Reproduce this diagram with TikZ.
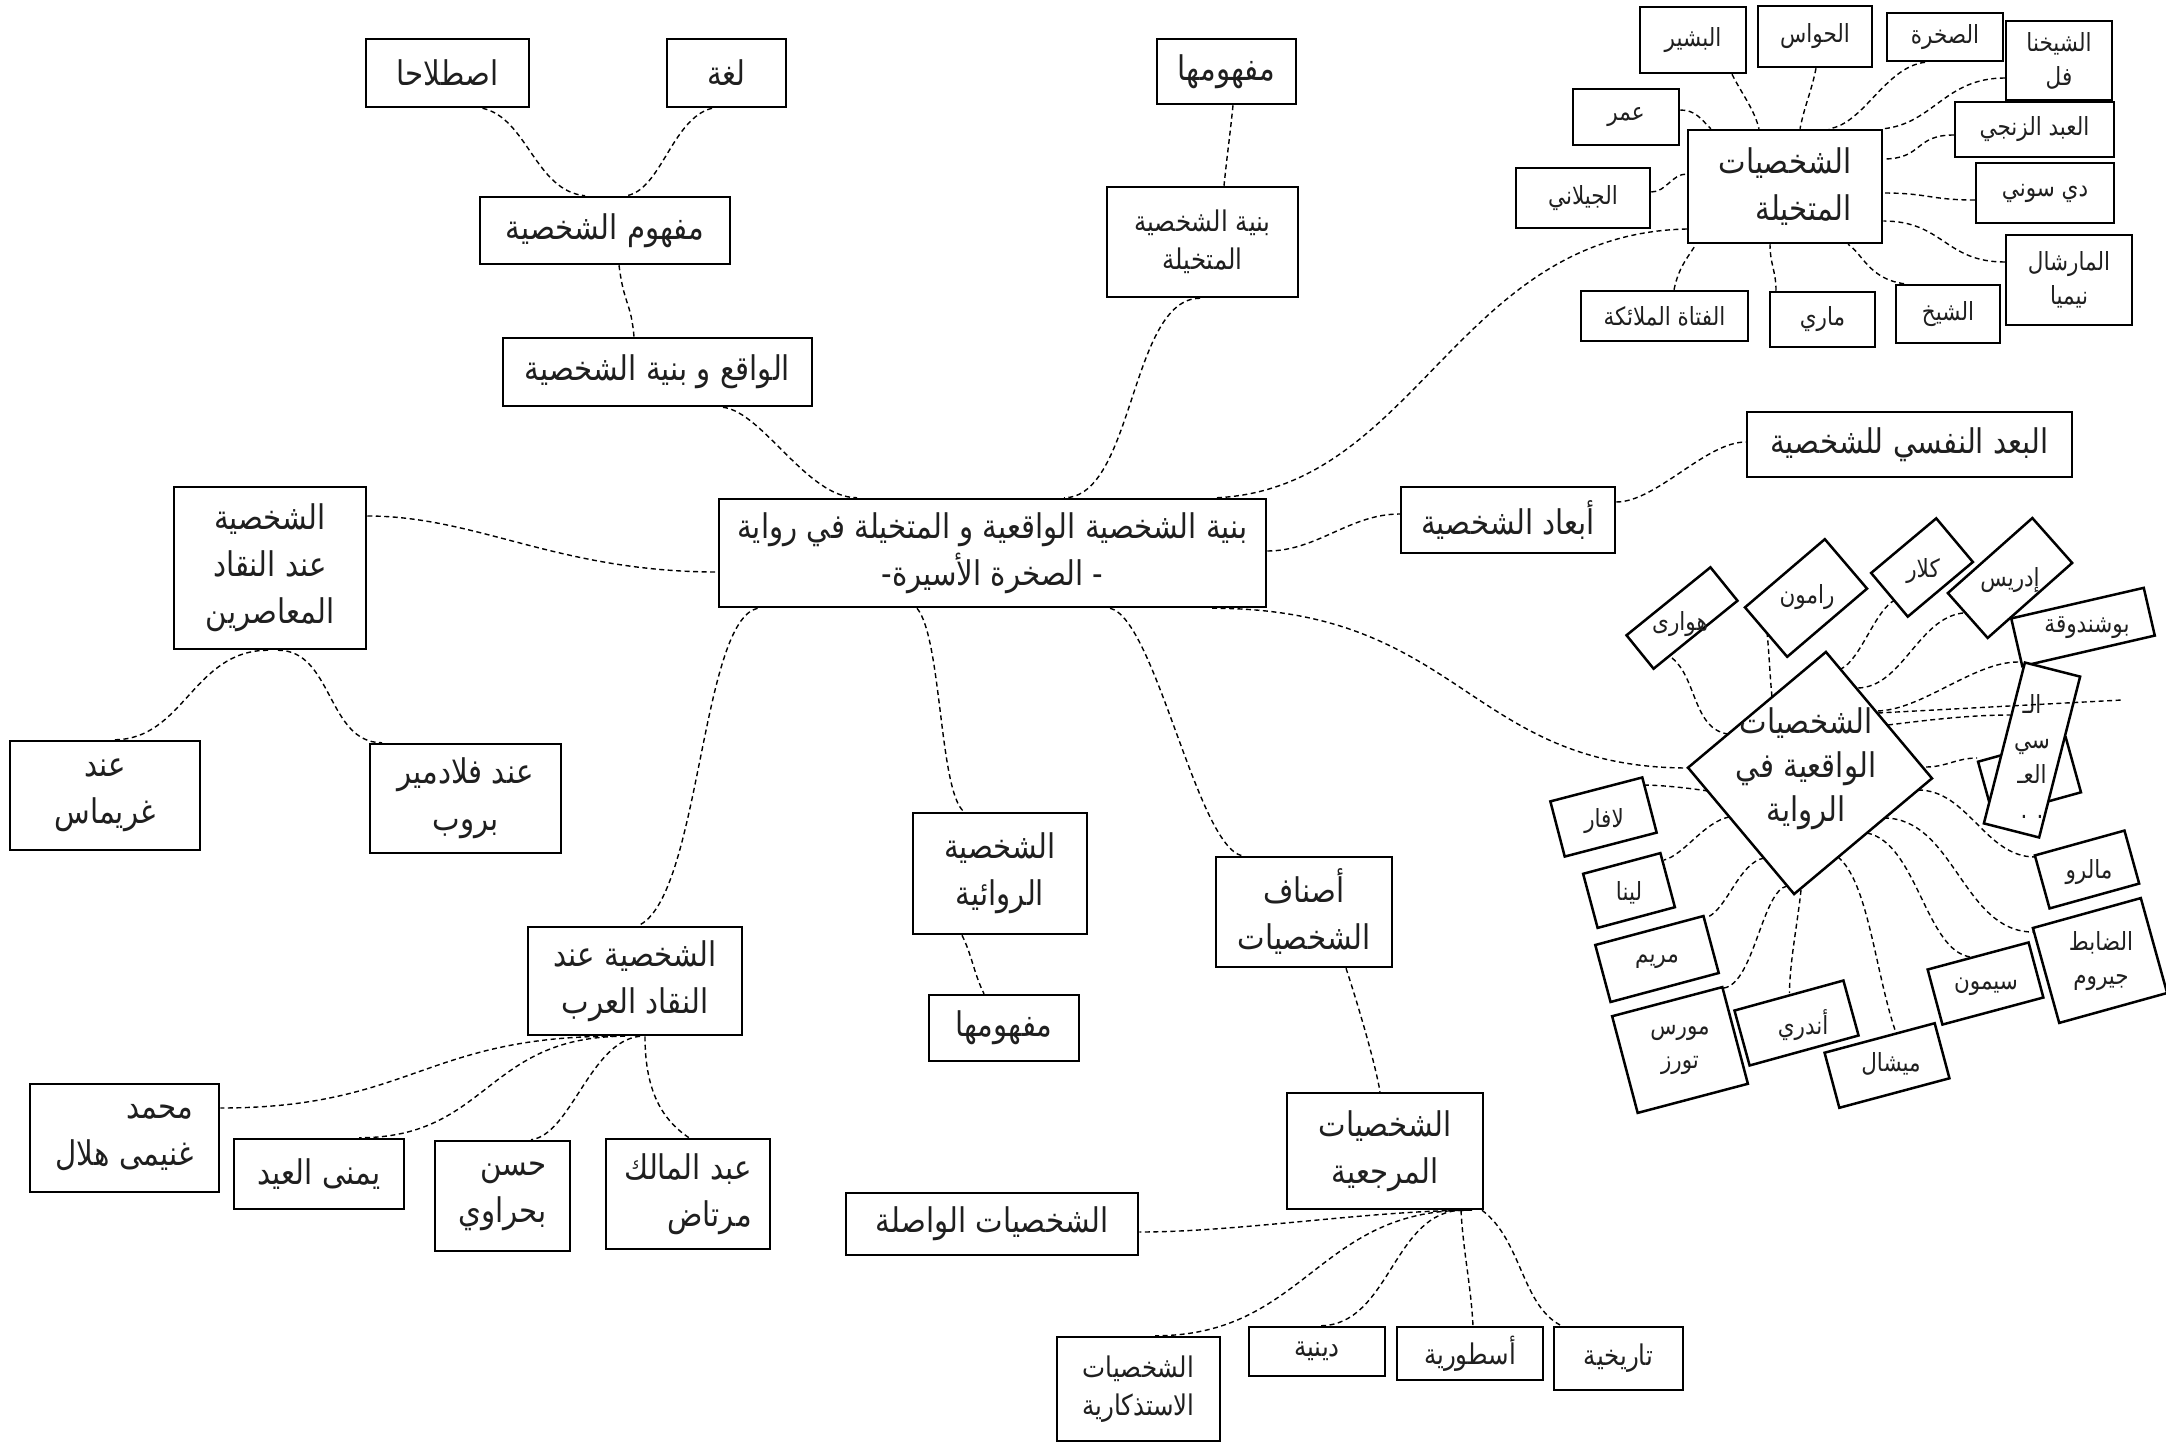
\documentclass[tikz,border=0pt]{standalone}
\usepackage{fontspec}
\newfontfamily\arabicfont[Script=Arabic,FakeStretch=0.86]{DejaVu Sans}
\TeXXeTstate=1
\usetikzlibrary{calc,backgrounds}
\newcommand{\AR}[1]{\beginR #1\endR}
\newcommand{\fBig}{\arabicfont\fontsize{34}{47}\selectfont}
\newcommand{\fMid}{\arabicfont\fontsize{28.5}{38}\selectfont}
\newcommand{\fSmall}{\arabicfont\fontsize{25}{34}\selectfont}
\begin{document}
\begin{tikzpicture}[x=1pt,y=-1pt,
  box/.style={draw,line width=2.5pt,fill=white,inner sep=0pt,align=center,font=\fBig,text=black!88},
  mbox/.style={box,font=\fMid},
  sbox/.style={box,font=\fSmall},
  rbox/.style={draw,line width=2.5pt,fill=white,inner sep=0pt},
  stxt/.style={inner sep=0pt,align=center,font=\fSmall,text=black!88},
  btxt/.style={inner sep=0pt,align=center,font=\arabicfont\fontsize{34}{44}\selectfont,text=black!88},
  con/.style={line width=1.4pt,dash pattern=on 5pt off 3.5pt}]
\useasboundingbox (0,0) rectangle (2166,1442);

% ---------- left / centre boxes ----------
\node[box,minimum width=163pt,minimum height=68pt] (istilah) at (447.5,73) {\AR{اصطلاحا}};
\node[box,minimum width=119pt,minimum height=68pt] (lugha) at (726.5,73) {\AR{لغة}};
\node[box,minimum width=250pt,minimum height=67pt] (mafhum) at (605,230.5) {\AR{مفهوم الشخصية}};
\node[box,minimum width=309pt,minimum height=68pt] (waqi) at (657.5,372) {\AR{الواقع و بنية الشخصية}};
\node[box,minimum width=139pt,minimum height=65pt] (maftop) at (1226.5,71.5) {\AR{مفهومها}};
\node[mbox,minimum width=191pt,minimum height=110pt] (binya) at (1202.5,242) {\AR{بنية الشخصية}\\\AR{المتخيلة}};
\node[box,minimum width=547pt,minimum height=108pt] (main) at (992.5,553) {\AR{بنية الشخصية الواقعية و المتخيلة في رواية}\\\AR{- الصخرة الأسيرة-}};
\node[box,minimum width=192pt,minimum height=162pt] (muasirin) at (270,568) {\AR{الشخصية}\\\AR{عند النقاد}\\\AR{المعاصرين}};
\node[box,minimum width=190pt,minimum height=109pt] (greimas) at (105,795.5) {\AR{عند}\\\AR{غريماس}};
\node[box,minimum width=191pt,minimum height=109pt] (propp) at (465.5,798.5) {\AR{عند فلادمير}\\\AR{بروب}};
\node[box,minimum width=214pt,minimum height=108pt] (arab) at (635,981) {\AR{الشخصية عند}\\\AR{النقاد العرب}};
\node[box,align=right,minimum width=189pt,minimum height=108pt] (hilal) at (124.5,1138) {\AR{محمد}\\\AR{غنيمى هلال}};
\node[box,minimum width=170pt,minimum height=70pt] (yumna) at (319,1174) {\AR{يمنى العيد}};
\node[box,align=right,minimum width=135pt,minimum height=110pt] (bahrawi) at (502.5,1196) {\AR{حسن}\\\AR{بحراوي}};
\node[box,align=right,minimum width=164pt,minimum height=110pt] (murtad) at (688,1194) {\AR{عبد المالك}\\\AR{مرتاض}};
\node[box,minimum width=174pt,minimum height=121pt] (riwaiya) at (1000,873.5) {\AR{الشخصية}\\\AR{الروائية}};
\node[box,minimum width=150pt,minimum height=66pt] (mafmid) at (1004,1028) {\AR{مفهومها}};
\node[box,minimum width=176pt,minimum height=110pt] (asnaf) at (1304,912) {\AR{أصناف}\\\AR{الشخصيات}};
\node[box,minimum width=196pt,minimum height=116pt] (marjia) at (1385,1151) {\AR{الشخصيات}\\\AR{المرجعية}};
\node[box,minimum width=292pt,minimum height=62pt] (wasila) at (992,1224) {\AR{الشخصيات الواصلة}};
\node[mbox,minimum width=163pt,minimum height=104pt] (istidhkar) at (1138.5,1389) {\AR{الشخصيات}\\\AR{الاستذكارية}};
\node[mbox,minimum width=136pt,minimum height=49pt] (diniya) at (1317,1351.5) {\AR{دينية}};
\node[mbox,minimum width=146pt,minimum height=53pt] (ustura) at (1470,1353.5) {\AR{أسطورية}};
\node[mbox,minimum width=129pt,minimum height=63pt] (tarikh) at (1618.5,1358.5) {\AR{تاريخية}};
\node[box,minimum width=214pt,minimum height=66pt] (abaad) at (1508,520) {\AR{أبعاد الشخصية}};
\node[box,minimum width=325pt,minimum height=65pt] (nafsi) at (1909.5,444.5) {\AR{البعد النفسي للشخصية}};

% ---------- imagined characters ----------
\node[box,align=right,minimum width=194pt,minimum height=113pt] (takh) at (1785,186.5) {\AR{الشخصيات}\\\AR{المتخيلة}};
\node[sbox,minimum width=106pt,minimum height=66pt] (bashir) at (1693,40) {\AR{البشير}};
\node[sbox,minimum width=114pt,minimum height=61pt] (hawas) at (1815,36.5) {\AR{الحواس}};
\node[sbox,minimum width=116pt,minimum height=48pt] (sakhra) at (1945,37) {\AR{الصخرة}};
\node[sbox,minimum width=106pt,minimum height=79pt] (shnafal) at (2059,60.5) {\AR{الشيخنا}\\\AR{فل}};
\node[sbox,minimum width=106pt,minimum height=56pt] (umar) at (1626,117) {\AR{عمر}};
\node[sbox,minimum width=159pt,minimum height=55pt] (abd) at (2034.5,129.5) {\AR{العبد الزنجي}};
\node[sbox,minimum width=134pt,minimum height=60pt] (jilani) at (1583,198) {\AR{الجيلاني}};
\node[sbox,minimum width=138pt,minimum height=60pt] (disoni) at (2045,193) {\AR{دي سوني}};
\node[sbox,minimum width=126pt,minimum height=90pt] (marshal) at (2069,280) {\AR{المارشال}\\\AR{نيميا}};
\node[sbox,minimum width=167pt,minimum height=50pt] (fatat) at (1664.5,316) {\AR{الفتاة الملائكة}};
\node[sbox,minimum width=105pt,minimum height=55pt] (mari) at (1822.5,319.5) {\AR{ماري}};
\node[sbox,minimum width=104pt,minimum height=58pt] (shaykh) at (1948,314) {\AR{الشيخ}};

% ---------- real characters ----------
\node[rbox,minimum width=180pt,minimum height=165pt,rotate=40] (waq) at (1810,773) {};
\node[btxt] (waqT) at (1806,769) {\AR{الشخصيات}\\\AR{الواقعية في}\\\AR{الرواية}};
\node[rbox,minimum width=108pt,minimum height=43pt,rotate=39] (hawari) at (1682,618) {};
\node[stxt] (hawariT) at (1680,624) {\AR{هوارى}};
\node[rbox,minimum width=105pt,minimum height=65pt,rotate=40.5] (ramon) at (1806,598) {};
\node[stxt] (ramonT) at (1807,597) {\AR{رامون}};
\node[rbox,minimum width=85pt,minimum height=57pt,rotate=40] (kalar) at (1922,567.5) {};
\node[stxt] (kalarT) at (1923,571) {\AR{كلار}};
\node[rbox,minimum width=113pt,minimum height=60pt,rotate=41.6] (idris) at (2010,578) {};
\node[stxt] (idrisT) at (2010,580) {\AR{إدريس}};
\node[rbox,minimum width=136pt,minimum height=49pt,rotate=13] (bush) at (2083,627) {};
\node[stxt] (bushT) at (2087,628) {\AR{بوشندوقة}};
\node[rbox,minimum width=91pt,minimum height=57pt,rotate=15.5] (hidden) at (2029.5,777) {};
\node[rbox,minimum width=57pt,minimum height=166pt,rotate=-14.3] (tall) at (2032,750) {};
\node[stxt,font=\arabicfont\fontsize{25}{35}\selectfont] (tallT) at (2032,756) {\AR{الـ}\\\AR{سي}\\\AR{العـ}\\. .};
\node[rbox,minimum width=95pt,minimum height=57pt,rotate=14.6] (lafar) at (1603.5,817) {};
\node[stxt] (lafarT) at (1604,821) {\AR{لافار}};
\node[rbox,minimum width=80pt,minimum height=56pt,rotate=15] (lina) at (1629,890.5) {};
\node[stxt] (linaT) at (1629,893) {\AR{لينا}};
\node[rbox,minimum width=112pt,minimum height=59pt,rotate=15] (maryam) at (1657,959) {};
\node[stxt] (maryamT) at (1657,962) {\AR{مريم}};
\node[rbox,minimum width=114pt,minimum height=100pt,rotate=14.8] (morris) at (1680,1050) {};
\node[stxt] (morrisT) at (1680,1050) {\AR{مورس}\\\AR{تورز}};
\node[rbox,minimum width=113pt,minimum height=57pt,rotate=15.4] (andre) at (1796.5,1023) {};
\node[stxt] (andreT) at (1803,1025) {\AR{أندري}};
\node[rbox,minimum width=114pt,minimum height=57pt,rotate=15] (michel) at (1887,1065.5) {};
\node[stxt] (michelT) at (1891,1064) {\AR{ميشال}};
\node[rbox,minimum width=104.5pt,minimum height=57pt,rotate=15] (simon) at (1985.5,983.5) {};
\node[stxt] (simonT) at (1986,987) {\AR{سيمون}};
\node[rbox,minimum width=112pt,minimum height=98.5pt,rotate=15.5] (dabit) at (2100,960.5) {};
\node[stxt] (dabitT) at (2101,961) {\AR{الضابط}\\\AR{جيروم}};
\node[rbox,minimum width=93pt,minimum height=55pt,rotate=15.5] (malro) at (2087,869.5) {};
\node[stxt] (malroT) at (2089,872) {\AR{مالرو}};

\coordinate (fe) at (2122,700);
\draw[con] ($(waq.center)+(68,-60)$) -- (fe);

\begin{pgfonlayer}{background}
\fill[white] (0,0) rectangle (2166,1442);
\draw[con] ($(istilah.south)+(35,0)$) .. controls +(45,10) and +(-50,-5) .. ($(mafhum.north)+(-20,0)$);
\draw[con] ($(lugha.south)+(-14.5,0)$) .. controls +(-40,10) and +(35,-5) .. ($(mafhum.north)+(21,0)$);
\draw[con] ($(mafhum.south)+(14,0)$) .. controls +(5,40) and +(-3,-35) .. ($(waqi.north)+(-23.5,0)$);
\draw[con] ($(waqi.south)+(65.5,0)$) .. controls +(40,5) and +(-50,0) .. ($(main.north)+(-135.5,0)$);
\draw[con] ($(maftop.south)+(6.5,0)$) .. controls +(-3,30) and +(3,-30) .. ($(binya.north)+(21.5,0)$);
\draw[con] ($(binya.south)+(-2.5,0)$) .. controls +(-70,0) and +(70,0) .. ($(main.north)+(71.5,0)$);
\draw[con] ($(main.north)+(224.5,0)$) .. controls +(200,-10) and +(-230,5) .. ($(takh.west)+(0,42.5)$);
\draw[con] ($(main.east)+(0,-2)$) .. controls +(50,0) and +(-50,0) .. ($(abaad.west)+(0,-6)$);
\draw[con] ($(abaad.east)+(0,-18)$) .. controls +(40,0) and +(-40,0) .. ($(nafsi.west)+(0,-2.5)$);
\draw[con] ($(muasirin.east)+(0,-52)$) .. controls +(110,0) and +(-160,0) .. ($(main.west)+(0,19)$);
\draw[con] ($(muasirin.south)+(-2,0)$) .. controls +(-75,0) and +(70,0) .. ($(greimas.north)+(9,0)$);
\draw[con] ($(muasirin.south)+(8,0)$) .. controls +(55,0) and +(-55,0) .. ($(propp.north)+(-83.5,0)$);
\draw[con] ($(main.south)+(-235,0)$) .. controls +(-57,13) and +(62,-27) .. ($(arab.north)+(3,0)$);
\draw[con] ($(arab.south)+(-20,0)$) .. controls +(-190,0) and +(190,0) .. ($(hilal.east)+(0,-30)$);
\draw[con] ($(arab.south)+(-10,0)$) .. controls +(-140,0) and +(130,0) .. ($(yumna.north)+(40,0)$);
\draw[con] ($(arab.south)+(5,0)$) .. controls +(-50,5) and +(40,-5) .. ($(bahrawi.north)+(28.5,0)$);
\draw[con] ($(arab.south)+(10,0)$) .. controls +(0,50) and +(-30,-20) .. ($(murtad.north)+(1,0)$);
\draw[con] ($(main.south)+(-75.5,0)$) .. controls +(25,30) and +(-25,-20) .. ($(riwaiya.north)+(-36,0)$);
\draw[con] ($(riwaiya.south)+(-38,0)$) .. controls +(10,20) and +(-10,-20) .. ($(mafmid.north)+(-20,0)$);
\draw[con] ($(main.south)+(117.5,0)$) .. controls +(45,10) and +(-45,-10) .. ($(asnaf.north)+(-62,0)$);
\draw[con] ($(asnaf.south)+(42,0)$) .. controls +(10,30) and +(-5,-30) .. ($(marjia.north)+(-5,0)$);
\draw[con] ($(marjia.south)+(87,0)$) .. controls +(-100,0) and +(100,0) .. ($(wasila.east)+(0,8)$);
\draw[con] ($(marjia.south)+(82,0)$) .. controls +(-150,0) and +(150,0) .. ($(istidhkar.north)+(16.5,0)$);
\draw[con] ($(marjia.south)+(78,0)$) .. controls +(-70,0) and +(70,0) .. ($(diniya.north)+(3,0)$);
\draw[con] ($(marjia.south)+(76,0)$) .. controls +(2,40) and +(-2,-40) .. ($(ustura.north)+(3,0)$);
\draw[con] ($(marjia.south)+(97,0)$) .. controls +(40,30) and +(-40,-20) .. ($(tarikh.north)+(-57,0)$);
% imagined
\draw[con] ($(umar.east)+(0,-7)$) .. controls +(15,0) and +(-10,-10) .. ($(takh.north west)+(24,0)$);
\draw[con] ($(bashir.south)+(39,0)$) .. controls +(10,20) and +(-5,-20) .. ($(takh.north)+(-26,0)$);
\draw[con] ($(hawas.south)+(1,0)$) .. controls +(-5,25) and +(5,-25) .. ($(takh.north)+(15,0)$);
\draw[con] ($(sakhra.south)+(-20,0)$) .. controls +(-40,5) and +(35,-5) .. ($(takh.north)+(44,0)$);
\draw[con] ($(shnafal.west)+(0,17.5)$) .. controls +(-60,0) and +(50,-5) .. (takh.north east);
\draw[con] ($(abd.west)+(0,5.5)$) .. controls +(-40,0) and +(40,0) .. ($(takh.east)+(0,-27.5)$);
\draw[con] ($(disoni.west)+(0,7)$) .. controls +(-45,0) and +(45,0) .. ($(takh.east)+(0,6.5)$);
\draw[con] ($(marshal.west)+(0,-18)$) .. controls +(-60,0) and +(60,0) .. ($(takh.east)+(0,34.5)$);
\draw[con] ($(shaykh.north)+(-44,0)$) .. controls +(-35,-5) and +(15,10) .. ($(takh.south)+(63,0)$);
\draw[con] ($(mari.north)+(-46.5,0)$) .. controls +(0,-20) and +(0,20) .. ($(takh.south)+(-15,0)$);
\draw[con] ($(fatat.north)+(9.5,0)$) .. controls +(5,-25) and +(-5,10) .. ($(takh.south west)+(9,0)$);
\draw[con] ($(jilani.east)+(0,-6)$) .. controls +(15,0) and +(-15,0) .. ($(takh.west)+(0,-12.5)$);
% real
\draw[con] ($(main.south)+(219.5,0)$) .. controls +(250,0) and +(-220,0) .. ($(waq.center)+(-122,-5)$);
\draw[con] ($(hawari.center)+(-10,40)$) .. controls +(25,20) and +(-35,-5) .. ($(waq.center)+(-82,-39)$);
\draw[con] ($(ramon.center)+(-39,34)$) .. controls +(2,20) and +(-2,-20) .. ($(waq.center)+(-38,-76)$);
\draw[con] ($(kalar.center)+(-27,32.5)$) .. controls +(-20,10) and +(20,-10) .. ($(waq.center)+(31,-104)$);
\draw[con] ($(idris.center)+(-47,35)$) .. controls +(-45,5) and +(45,0) .. ($(waq.center)+(47,-85)$);
\draw[con] ($(bush.center)+(-65,35)$) .. controls +(-45,0) and +(45,0) .. ($(waq.center)+(66,-62)$);
\draw[con] ($(waq.center)+(78,-48)$) .. controls +(40,-5) and +(-40,0) .. ($(tall.center)+(-22,-35)$);
\draw[con] ($(waq.center)+(116,-6)$) .. controls +(20,0) and +(-20,0) .. ($(hidden.center)+(-52.5,-19)$);
\draw[con] ($(waq.center)+(108,17)$) .. controls +(50,0) and +(-50,0) .. ($(malro.center)+(-52,-12.5)$);
\draw[con] ($(waq.center)+(74,45)$) .. controls +(70,0) and +(-70,0) .. ($(dabit.center)+(-67,-28.5)$);
\draw[con] ($(waq.center)+(57,60)$) .. controls +(50,10) and +(-45,-5) .. ($(simon.center)+(-14.5,-26.5)$);
\draw[con] ($(waq.center)+(28,84)$) .. controls +(30,25) and +(-20,-60) .. ($(michel.center)+(8,-35.5)$);
\draw[con] ($(waq.center)+(-9,117)$) .. controls +(-3,30) and +(0,-30) .. ($(andre.center)+(-7,-30)$);
\draw[con] ($(waq.center)+(-23,113)$) .. controls +(-25,5) and +(30,-5) .. ($(morris.center)+(44,-62)$);
\draw[con] ($(waq.center)+(-46,85)$) .. controls +(-25,5) and +(20,-10) .. ($(maryam.center)+(51,-42)$);
\draw[con] ($(waq.center)+(-81,44)$) .. controls +(-25,5) and +(20,-5) .. ($(lina.center)+(35,-30.5)$);
\draw[con] ($(waq.center)+(-102,18)$) .. controls +(-20,-3) and +(20,0) .. ($(lafar.center)+(38,-32)$);
\end{pgfonlayer}
\end{tikzpicture}
\end{document}
